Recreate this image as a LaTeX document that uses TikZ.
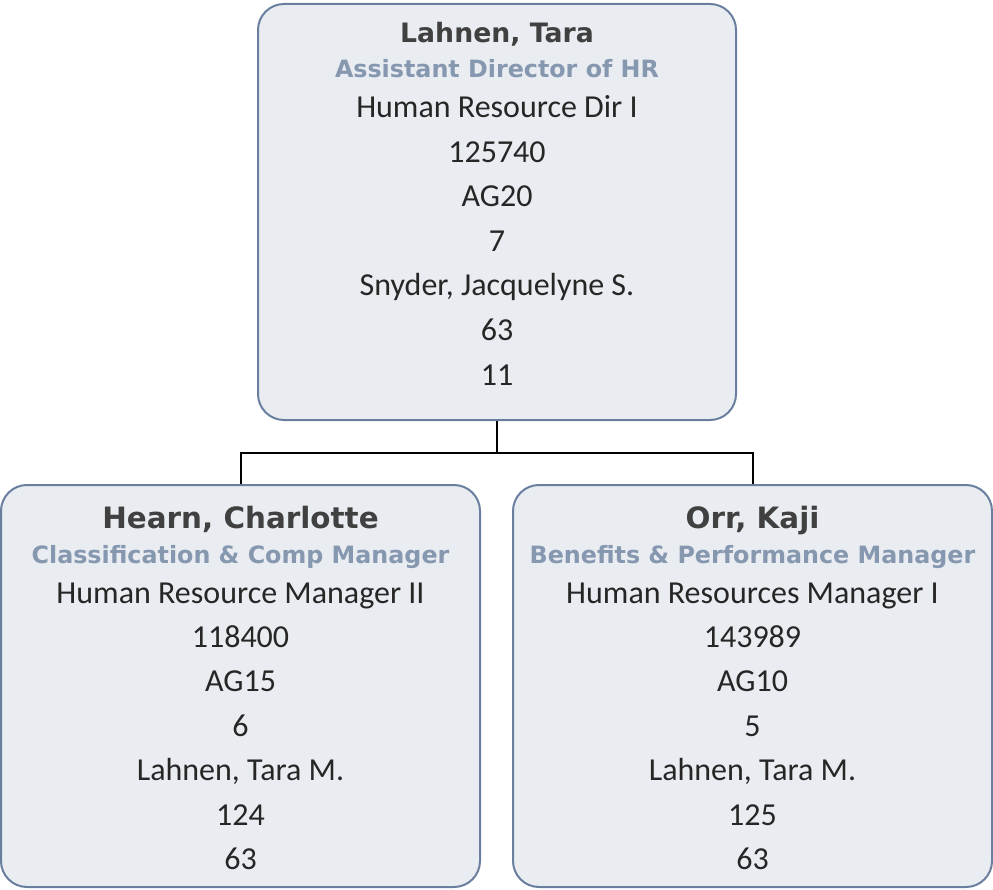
\documentclass[tikz,border=0pt]{standalone}
\usepackage{fontspec}
\setmainfont{Carlito}
\newfontfamily\headfont{DejaVu Sans}[BoldFont={DejaVu Sans Bold}]

\definecolor{boxfill}{HTML}{E9EDF1}
\definecolor{boxline}{HTML}{6A7F9F}
\definecolor{namegray}{HTML}{404040}
\definecolor{titleblue}{HTML}{8697B0}
\definecolor{bodygray}{HTML}{262626}

\tikzset{
  box/.style={draw=boxline, fill=boxfill, line width=2pt, rounded corners=26pt, inner sep=0pt},
  person/.style={anchor=base, text=namegray, font=\headfont\bfseries\fontsize{29.4}{32}\selectfont},
  jobtitle/.style={anchor=base, text=titleblue, font=\headfont\bfseries\fontsize{23.8}{26}\selectfont},
  line/.style={anchor=base, text=bodygray, font=\fontsize{32}{34}\selectfont},
  link/.style={draw=black, line width=2pt}
}

\begin{document}
\begin{tikzpicture}[x=1pt, y=-1pt]
\useasboundingbox (0,0) rectangle (993,890);

\node[box, minimum width=478pt, minimum height=416pt] (tara) at (497,212) {};
\node[box, minimum width=479pt, minimum height=402pt] (hearn) at (240.5,686) {};
\node[box, minimum width=479pt, minimum height=402pt] (orr) at (752.5,686) {};

% top box
\node[person, font=\headfont\bfseries\fontsize{26.7}{30}\selectfont] (tara-name) at (497,43) {Lahnen, Tara};
\node[jobtitle] (tara-title) at (497,78) {Assistant Director of HR};
\foreach \txt [count=\i] in {Human Resource Dir I,125740,AG20,7,{Snyder, Jacquelyne S.},63,11}
  \node[line] (tara-\i) at (497,{118+44.5*(\i-1)}) {\txt};

% left box
\node[person] (hearn-name) at (240.5,528) {Hearn, Charlotte};
\node[jobtitle] (hearn-title) at (240.5,563) {Classification \& Comp Manager};
\foreach \txt [count=\i] in {Human Resource Manager II,118400,AG15,6,{Lahnen, Tara M.},124,63}
  \node[line] (hearn-\i) at (240.5,{603+44.4*(\i-1)}) {\txt};

% right box
\node[person] (orr-name) at (752.5,528) {Orr, Kaji};
\node[jobtitle] (orr-title) at (752.5,563) {Benefits \& Performance Manager};
\foreach \txt [count=\i] in {Human Resources Manager I,143989,AG10,5,{Lahnen, Tara M.},125,63}
  \node[line] (orr-\i) at (752.5,{603+44.4*(\i-1)}) {\txt};

% connectors
\coordinate (fork) at (497,453);
\draw[link] (tara.south) -- (fork) -| (hearn.north);
\draw[link] (fork) -| (orr.north);
\end{tikzpicture}
\end{document}
